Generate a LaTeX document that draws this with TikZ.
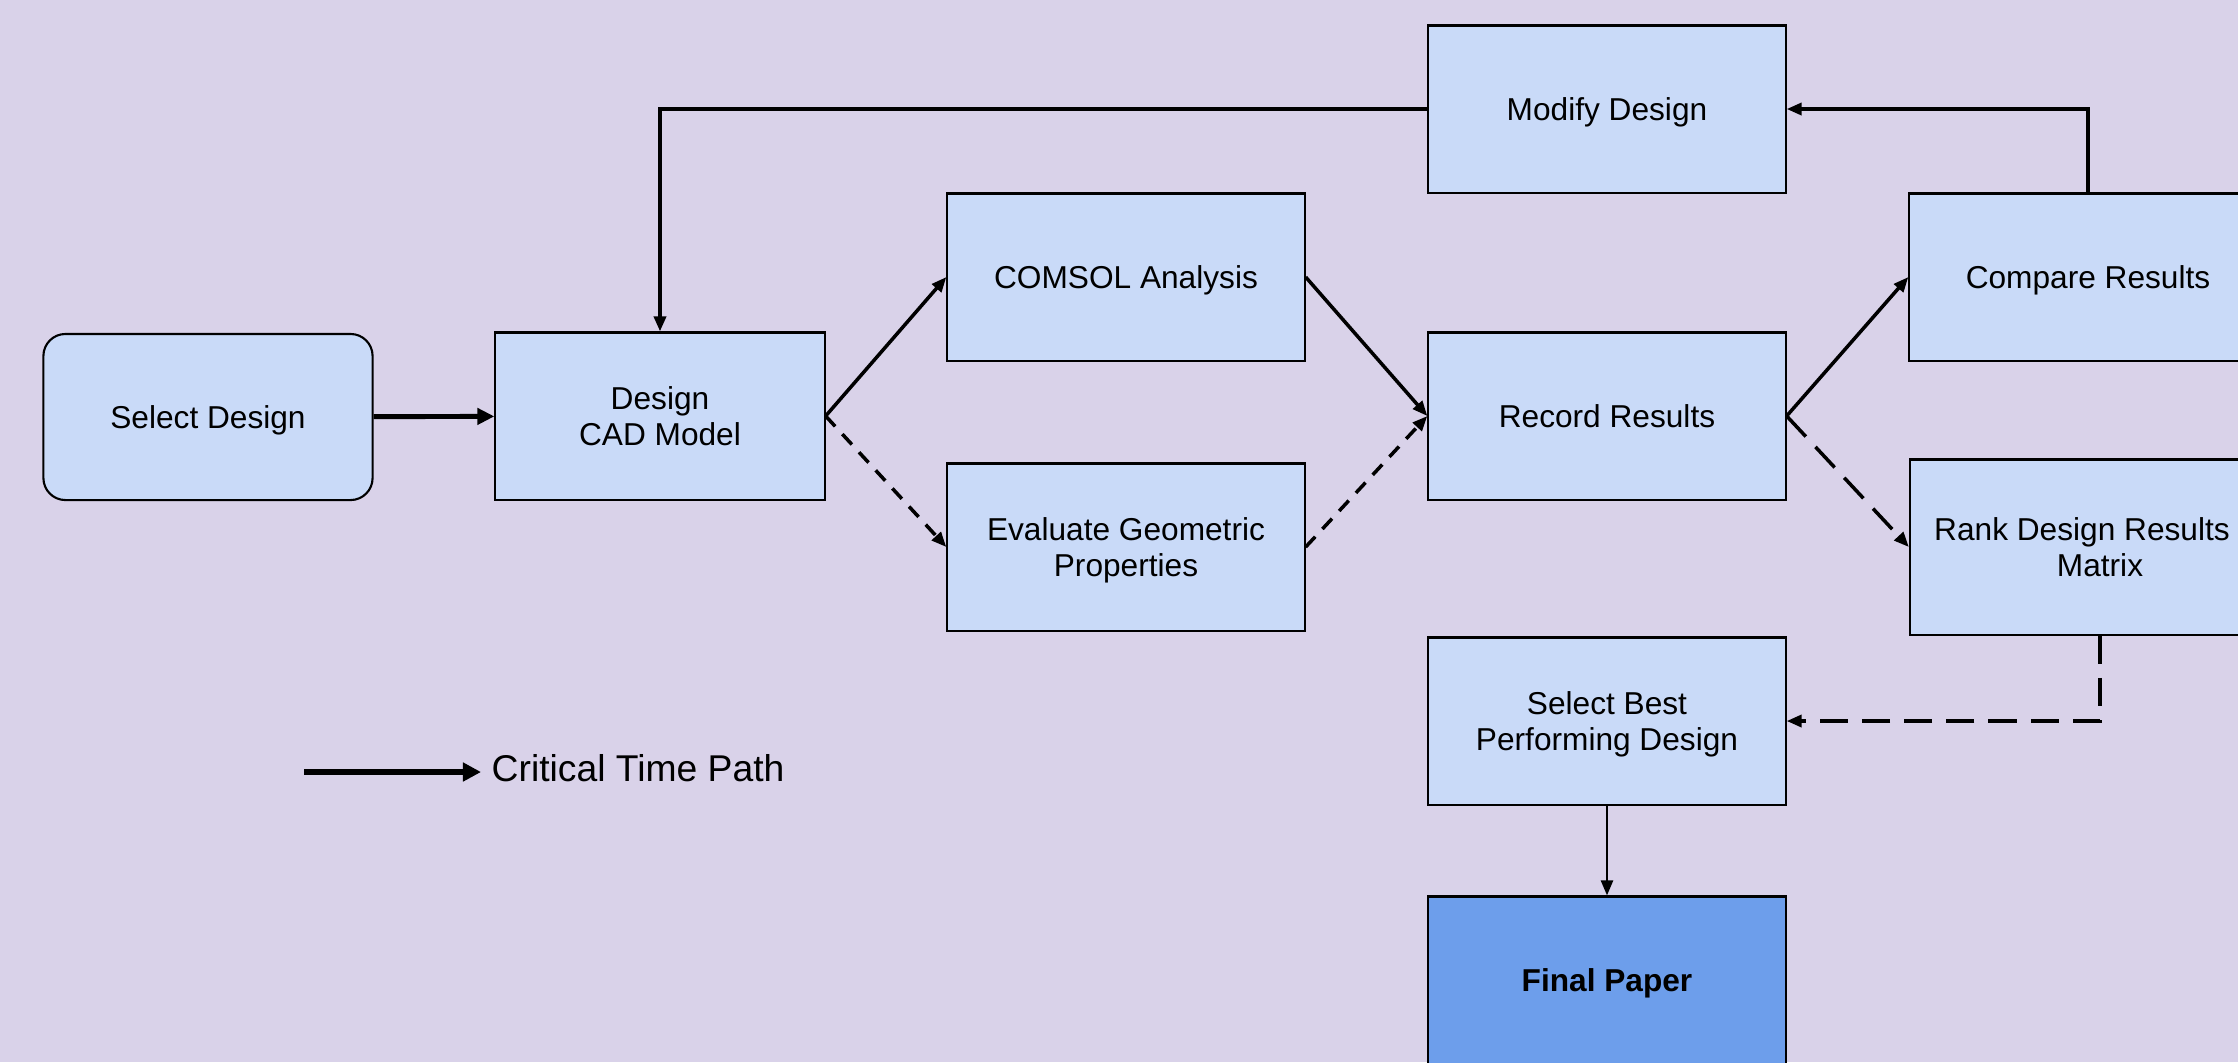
\documentclass[tikz,border=0pt]{standalone}
\usepackage{fontspec}
\setmainfont{Liberation Sans}
\usetikzlibrary{arrows.meta}
\definecolor{bgpurple}{HTML}{D9D2E9}
\definecolor{boxblue}{HTML}{C9DAF8}
\definecolor{paperblue}{HTML}{6D9EEB}

\begin{document}
\begin{tikzpicture}[x=0.01cm, y=-0.01cm,
    every node/.style={font=\fontsize{9}{10.5}\selectfont, align=center, inner sep=0pt},
    box/.style={draw, line width=0.6pt, fill=boxblue, text depth=0pt, minimum width=3.57cm, minimum height=1.67cm},
    crit/.style={line width=1pt, -{Triangle[length=0.15cm, width=0.12cm]}},
    opt/.style={crit, dash pattern=on 4pt off 3pt},
    optlong/.style={crit, dash pattern=on 8pt off 4pt}]

    \clip (0,0) rectangle (2238,1062);
    \fill[bgpurple] (0,0) rectangle (2238,1062);

    \node[box, rounded corners=0.22cm, minimum width=3.29cm, minimum height=1.66cm] (select) at (208,417) {Select Design};

    \node[box, minimum width=3.29cm] (cad) at (660,416) {Design\\CAD Model};

    \node[box] (comsol) at (1126,277) {COMSOL Analysis};
    \node[box] (eval) at (1126,547) {Evaluate Geometric\\Properties};

    \node[box] (record) at (1607,416) {Record Results};
    \node[box] (modify) at (1607,109) {Modify Design};

    \node[box] (compare) at (2088,277) {Compare Results};
    \node[box, minimum width=3.8cm, minimum height=1.75cm] (rank) at (2100,547) {Rank Design Results\hspace*{0.36cm}\\Matrix};

    \node[box] (best) at (1607,721) {Select Best\\Performing Design};
    \node[box, fill=paperblue, font=\fontsize{9}{10.5}\selectfont\bfseries] (final) at (1607,980) {Final Paper};

    \coordinate (legstart) at (304,772);
    \node[anchor=mid west, inner xsep=0.1cm, font=\fontsize{10.6}{12}\selectfont] (legend) at (481,772) {Critical Time Path};

    \draw[crit, line width=1.4pt, -{Triangle[length=0.17cm, width=0.16cm]}] (select) to (cad);
    \draw[crit] (cad.east) to (comsol.west);
    \draw[opt] (cad.east) to (eval.west);
    \draw[crit] (comsol.east) to (record.west);
    \draw[opt] (eval.east) to (record.west);
    \draw[crit] (record.east) to (compare.west);
    \draw[optlong] (record.east) to (rank.west);
    \draw[crit] (compare.north) |- (modify.east);
    \draw[crit] (modify.west) -| (cad.north);
    \draw[optlong] (rank.south) |- (best.east);
    \draw[crit, line width=0.7pt] (best) to (final);
    \draw[crit, line width=1.6pt, -{Triangle[length=0.18cm, width=0.18cm]}] (legstart) to (legend.mid west);
\end{tikzpicture}
\end{document}
